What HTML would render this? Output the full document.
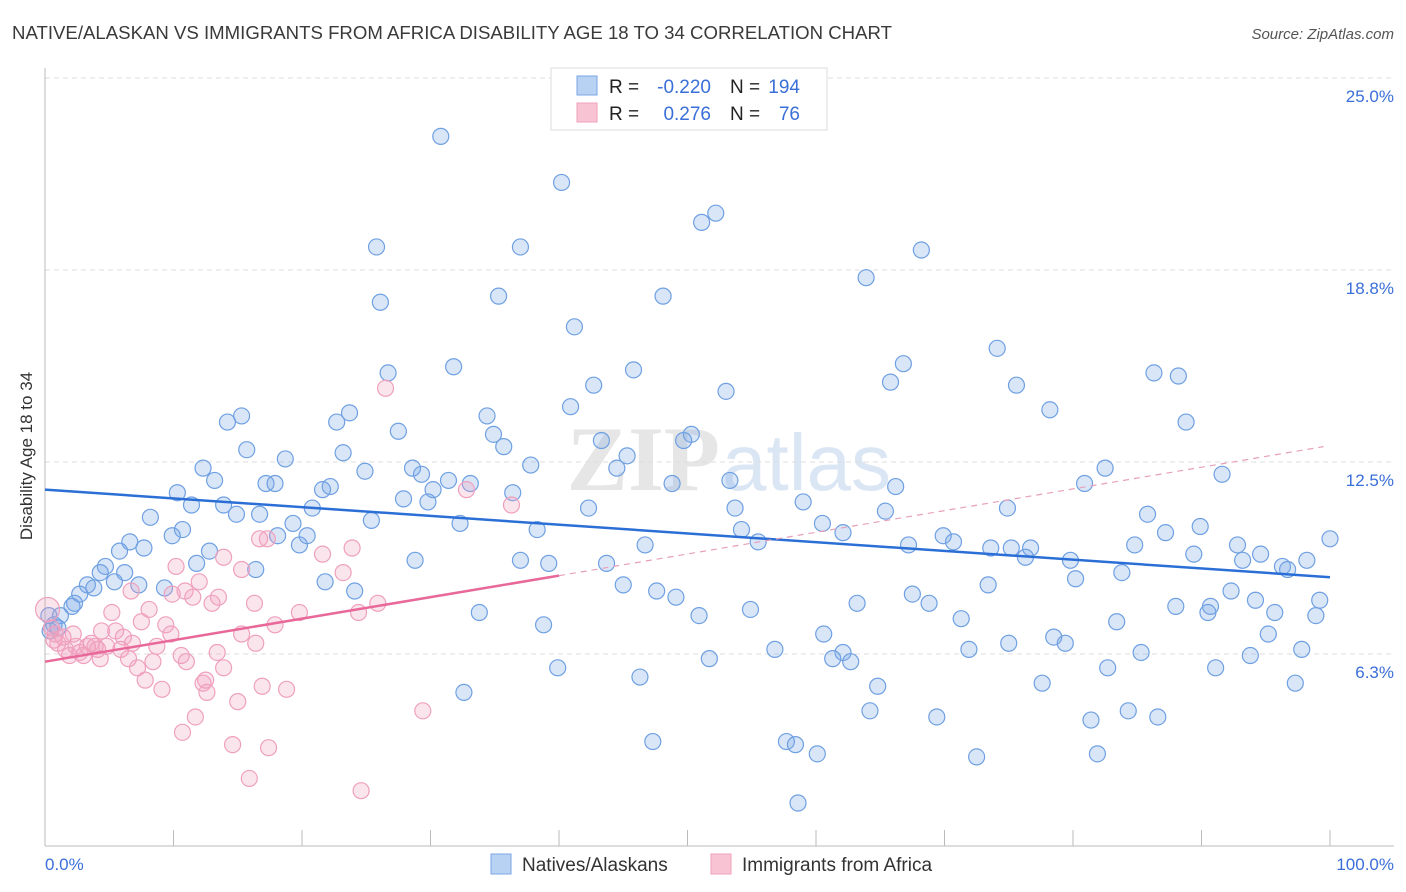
<!DOCTYPE html>
<html><head><meta charset="utf-8"><style>
body{margin:0;background:#fff;font-family:"Liberation Sans",sans-serif}
svg{display:block}
</style></head><body>
<svg id="chart" width="1406" height="892">
<text x="12" y="39" font-size="18.5" fill="#3a3a3a" textLength="880" lengthAdjust="spacingAndGlyphs">NATIVE/ALASKAN VS IMMIGRANTS FROM AFRICA DISABILITY AGE 18 TO 34 CORRELATION CHART</text>
<text x="1394" y="39" font-size="15" fill="#555" text-anchor="end" font-style="italic">Source: ZipAtlas.com</text>
<text x="720" y="490" font-size="92" fill="#e6e6e6" text-anchor="end" font-family="Liberation Serif" font-weight="bold">ZIP</text>
<text x="722" y="490" font-size="80" fill="#dbe6f5">atlas</text>
<g id="grid"></g><g id="axes"></g><g id="pts"></g><g id="trend"></g>
<text x="32" y="456" font-size="17" fill="#333" text-anchor="middle" transform="rotate(-90 32 456)">Disability Age 18 to 34</text>
<text x="45" y="870" font-size="17" fill="#3a6fd8">0.0%</text>
<text x="1394" y="870" font-size="17" fill="#3a6fd8" text-anchor="end">100.0%</text>
<g>
<rect x="551" y="68" width="276" height="62" fill="#fff" stroke="#ddd"/>
<rect x="577" y="76" width="20" height="19" fill="#b8d2f4" stroke="#7aa6e6"/>
<rect x="577" y="103" width="20" height="19" fill="#f8c4d4" stroke="#eea0b8"/>
<text x="609" y="93" font-size="19" fill="#222">R =</text><text x="711" y="93" font-size="19" fill="#3a6fd8" text-anchor="end">-0.220</text>
<text x="730" y="93" font-size="19" fill="#222">N =</text><text x="800" y="93" font-size="19" fill="#3a6fd8" text-anchor="end">194</text>
<text x="609" y="120" font-size="19" fill="#222">R =</text><text x="711" y="120" font-size="19" fill="#3a6fd8" text-anchor="end">0.276</text>
<text x="730" y="120" font-size="19" fill="#222">N =</text><text x="800" y="120" font-size="19" fill="#3a6fd8" text-anchor="end">76</text>
</g>
<g>
<rect x="491" y="854" width="20" height="20" fill="#b8d2f4" stroke="#7aa6e6"/>
<text x="522" y="871" font-size="19" fill="#333">Natives/Alaskans</text>
<rect x="711" y="854" width="20" height="20" fill="#f8c4d4" stroke="#eea0b8"/>
<text x="742" y="871" font-size="19" fill="#333">Immigrants from Africa</text>
</g>
</svg>
<script>
const yTicks=[6.25,12.5,18.75,25];
const yTickLabels=["6.3%","12.5%","18.8%","25.0%"];
const blueX=[30.8,40.2,52.2,51.1,25.8,37.0,68.2,63.9,35.3,48.1,26.1,41.2,74.1,66.8,31.8,45.8,26.7,86.3,88.2,42.7,65.8,75.6,53.0,40.9,78.2,15.3,23.7,14.2,22.7,34.4,88.8,27.5,34.9,50.3,49.7,15.7,23.2,35.7,43.3,45.3,18.7,37.8,44.5,82.5,12.3,24.9,28.6,29.3,31.4,91.6,13.2,17.2,17.9,22.2,21.6,30.2,33.1,48.8,53.3,66.2,80.9,10.3,13.9,27.9,29.8,36.4,11.4,59.0,74.9,14.9,16.7,20.8,42.3,53.7,65.4,8.2,25.4,85.8,19.3,32.3,60.5,10.7,54.2,89.9,38.3,62.1,87.2,100,9.9,18.1,20.4,6.6,7.7,55.5,69.9,70.7,67.2,46.7,19.8,92.8,84.8,75.2,76.7,73.6,12.8,5.8,89.4,94.6,76.3,79.8,37.0,28.8,39.2,43.7,93.2,98.2,96.3,96.7,11.8,16.4,4.7,4.3,6.2,83.8,80.2,3.3,5.4,7.3,21.8,45.0,73.4,9.3,3.8,2.7,24.1,47.6,67.5,92.3,49.1,94.2,2.3,63.2,68.8,99.2,2.1,88.0,90.7,54.9,33.8,90.5,95.7,50.9,98.9,1.2,0.3,71.3,83.4,38.8,0.7,1.0,0.4,60.6,95.2,78.5,75.0,79.4,71.9,56.8,62.1,85.3,97.8,93.8,61.3,51.7,62.7,82.7,39.9,91.1,46.3,64.8,77.6,97.3,32.6,64.2,84.3,69.4,86.6,81.4,47.3,57.7,58.4,60.1,81.9,72.5,58.6];
const blueY=[23.1,21.6,20.6,20.3,19.5,19.5,19.4,18.5,17.9,17.9,17.7,16.9,16.2,15.7,15.6,15.5,15.4,15.4,15.3,15.0,15.1,15.0,14.8,14.3,14.2,14.0,14.1,13.8,13.8,14.0,13.8,13.5,13.4,13.4,13.2,12.9,12.8,13.0,13.2,12.7,12.6,12.4,12.3,12.3,12.3,12.2,12.3,12.1,11.9,12.1,11.9,11.8,11.8,11.7,11.6,11.6,11.8,11.8,11.9,11.7,11.8,11.5,11.1,11.3,11.2,11.5,11.1,11.2,11.0,10.8,10.8,11.0,11.0,11.0,10.9,10.7,10.6,10.8,10.5,10.5,10.5,10.3,10.3,10.4,10.3,10.2,10.2,10.0,10.1,10.1,10.1,9.9,9.7,9.9,10.1,9.9,9.8,9.8,9.8,9.8,9.8,9.7,9.7,9.7,9.6,9.6,9.5,9.5,9.4,9.3,9.3,9.3,9.2,9.2,9.3,9.3,9.1,9.0,9.2,9.0,9.1,8.9,8.9,8.9,8.7,8.5,8.6,8.5,8.6,8.5,8.5,8.4,8.4,8.2,8.3,8.3,8.2,8.3,8.1,8.0,7.9,7.9,7.9,8.0,7.8,7.8,7.8,7.7,7.6,7.6,7.6,7.5,7.5,7.5,7.5,7.4,7.3,7.2,7.2,7.1,7.0,6.9,6.9,6.8,6.6,6.6,6.4,6.4,6.3,6.3,6.4,6.2,6.1,6.1,6.0,5.8,5.8,5.8,5.5,5.2,5.3,5.3,5.0,4.4,4.4,4.2,4.2,4.1,3.4,3.4,3.3,3.0,3.0,2.9,1.4];
const pinkX=[0.2,0.5,0.8,1.4,2.4,1.0,1.9,2.7,3.3,3.9,3.0,3.6,4.3,4.8,5.2,5.5,4.4,6.1,5.9,6.7,6.5,7.2,7.5,7.8,8.1,8.4,8.7,9.1,9.4,9.8,10.2,9.9,10.6,11.0,10.7,11.5,11.7,12.0,12.3,12.6,13.0,13.4,13.5,13.9,13.9,14.6,15.0,15.3,15.3,15.9,16.3,16.4,16.7,16.9,17.3,17.4,17.9,18.8,19.8,21.6,23.2,23.9,24.4,24.6,25.9,26.5,29.4,32.8,36.3,0.7,1.6,4.1,6.8,12.5,10.9,2.2];
const pinkY=[7.7,7.1,6.9,6.8,6.5,6.6,6.2,6.3,6.5,6.5,6.2,6.6,6.1,6.5,7.6,7.0,7.0,6.8,6.4,8.3,6.1,5.8,7.3,5.4,7.7,6.0,6.5,5.1,7.2,6.9,9.1,8.2,6.2,6.0,3.7,8.1,4.2,8.6,5.3,5.0,7.9,6.3,8.1,5.8,9.4,3.3,4.7,6.9,9.0,2.2,7.9,6.6,10.0,5.2,10.0,3.2,7.2,5.1,7.6,9.5,8.9,9.7,7.6,1.8,7.9,14.9,4.4,11.6,11.1,6.7,6.4,6.4,6.6,5.4,8.3,6.9];
const blueTrend=[11.6,8.75];
const pinkTrend=[6.0,8.8,13.0];
const NS="http://www.w3.org/2000/svg";
const X0=45,X1=1330,YB=846,YT=78;
const xs=v=>X0+(v/100)*(X1-X0);
const ys=v=>YB-(v/25)*(YB-YT);
function mk(tag,attrs,parent){const e=document.createElementNS(NS,tag);for(const k in attrs)e.setAttribute(k,attrs[k]);parent.appendChild(e);return e;}
const grid=document.getElementById('grid'),axes=document.getElementById('axes'),pts=document.getElementById('pts'),tr=document.getElementById('trend');
yTicks.forEach((t,i)=>{
  const l=mk('line',{x1:X0,x2:1394,y1:ys(t),y2:ys(t),stroke:'#ddd','stroke-dasharray':'5,4'},grid);
  
  
  const tx=mk('text',{x:1394,y:ys(t)+24,'font-size':17,fill:'#3a6fd8','text-anchor':'end'},grid);
  tx.textContent=yTickLabels[i];
  
  
});
const ax=mk('line',{x1:X0,x2:X0,y1:68,y2:YB,stroke:'#bbb'},axes);


const bx=mk('line',{x1:X0,x2:1394,y1:YB,y2:YB,stroke:'#bbb'},axes);


for(let i=0;i<=10;i++){
  const t=mk('line',{x1:xs(i*10),x2:xs(i*10),y1:YB-16,y2:YB,stroke:'#bbb'},axes);
  
  
}
blueX.forEach((v,i)=>{
  const c=mk('circle',{cx:xs(v),cy:ys(blueY[i]),r:8,fill:'rgba(120,165,230,0.28)',stroke:'#6fa0e2','stroke-width':1.2},pts);
  
  
});
pinkX.forEach((v,i)=>{
  const c=mk('circle',{cx:xs(v),cy:ys(pinkY[i]),r:i===0?12:8,fill:'rgba(242,160,190,0.28)',stroke:'#efa0bd','stroke-width':1.2},pts);
  
  
});
const bl=mk('line',{x1:xs(0),y1:ys(blueTrend[0]),x2:xs(100),y2:ys(blueTrend[1]),stroke:'#2b6fd6','stroke-width':2.5},tr);


const pl=mk('line',{x1:xs(0),y1:ys(pinkTrend[0]),x2:xs(40),y2:ys(pinkTrend[1]),stroke:'#e8689a','stroke-width':2.5},tr);


const pd=mk('line',{x1:xs(40),y1:ys(pinkTrend[1]),x2:xs(99.5),y2:ys(pinkTrend[2]),stroke:'#e8a0ba','stroke-width':1.2,'stroke-dasharray':'6,5'},tr);


</script>
</body></html>
